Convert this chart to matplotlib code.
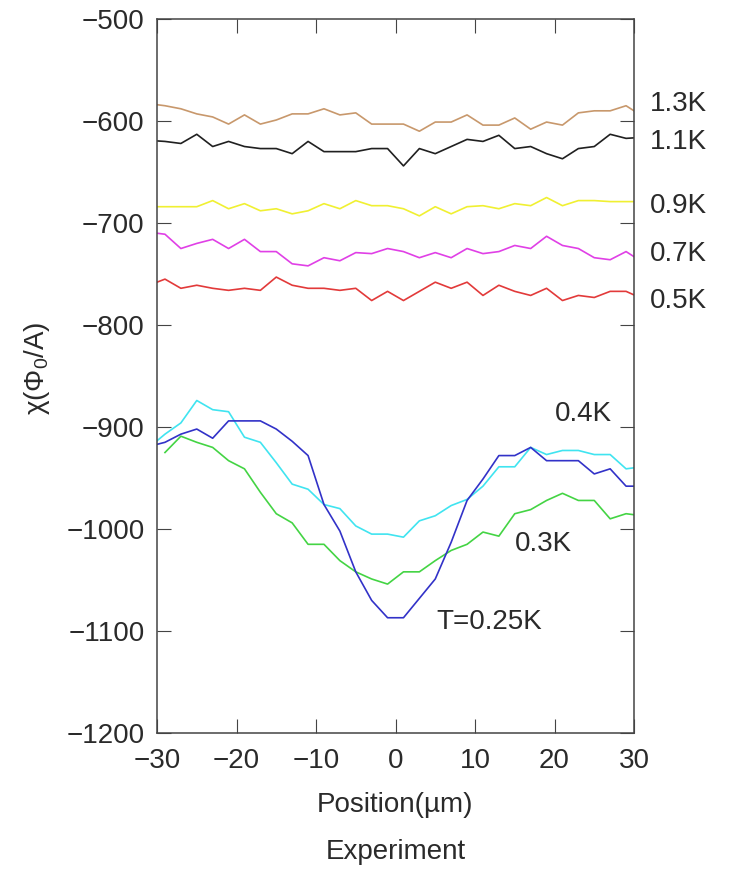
import matplotlib
matplotlib.use("Agg")
import matplotlib.pyplot as plt
import numpy as np

plt.rcParams['font.family'] = ['Liberation Sans', 'DejaVu Sans']
plt.rcParams['mathtext.fontset'] = 'custom'
plt.rcParams['mathtext.rm'] = 'Liberation Sans'
plt.rcParams['mathtext.default'] = 'regular'

# scan positions (um), odd steps; lines are clipped at the frame
pos = list(range(-31, 32, 2))
pos_03 = list(range(-29, 32, 2))

chi_13 = [-583, -585, -588, -593, -596, -603, -594, -603, -599, -593, -593, -588, -594, -592, -603, -603,
          -603, -610, -601, -601, -594, -604, -604, -597, -608, -601, -604, -592, -590, -590, -585, -595]
chi_11 = [-619, -620, -622, -613, -625, -620, -625, -627, -627, -632, -620, -630, -630, -630, -627, -627,
          -644, -627, -632, -625, -618, -620, -614, -627, -625, -632, -637, -627, -625, -613, -617, -616]
chi_09 = [-684, -684, -684, -684, -678, -686, -681, -688, -686, -691, -688, -681, -686, -678, -683, -683,
          -686, -693, -684, -691, -684, -683, -686, -681, -683, -675, -683, -678, -678, -679, -679, -679]
chi_07 = [-709, -711, -725, -720, -716, -725, -716, -728, -728, -740, -742, -734, -737, -729, -730, -725,
          -728, -734, -729, -734, -725, -730, -728, -722, -725, -713, -722, -725, -734, -736, -728, -738]
chi_05 = [-761, -755, -764, -761, -764, -766, -764, -766, -753, -761, -764, -764, -766, -764, -776, -767,
          -776, -767, -758, -764, -758, -771, -761, -767, -771, -764, -776, -771, -773, -767, -767, -774]
chi_04 = [-920, -907, -896, -874, -883, -885, -910, -915, -935, -956, -961, -976, -980, -997, -1005, -1005,
          -1008, -992, -987, -977, -971, -958, -939, -939, -920, -927, -923, -923, -927, -927, -941, -939]
chi_03 = [-925, -909, -915, -920, -933, -941, -964, -985, -994, -1015, -1015, -1031, -1042, -1049, -1054,
          -1042, -1042, -1031, -1021, -1015, -1003, -1007, -985, -981, -972, -965, -972, -972, -990, -985, -987]
chi_025 = [-919, -915, -907, -902, -911, -894, -894, -894, -902, -914, -928, -976, -1002, -1042, -1070, -1087,
           -1087, -1068, -1049, -1013, -972, -951, -928, -928, -920, -933, -933, -933, -946, -941, -958, -958]

labels = ["1.3K", "1.1K", "0.9K", "0.7K", "0.5K", "0.4K", "0.3K", "T=0.25K"]
label_x = [32.0, 32.0, 32.0, 32.0, 32.0, 20.0, 15.0, 5.1]
label_y = [-583, -621, -683, -730, -776, -887, -1015, -1091]

fig = plt.figure(figsize=(7.29, 8.69), dpi=100)
ax = fig.add_axes([0.2154, 0.1565, 0.6543, 0.8216])

series = [
    (pos, chi_13, "#c8986c"),
    (pos, chi_11, "#202020"),
    (pos, chi_09, "#f0f032"),
    (pos, chi_07, "#e040e6"),
    (pos, chi_05, "#e23a3a"),
    (pos, chi_04, "#40e4f0"),
    (pos_03, chi_03, "#44d444"),
    (pos, chi_025, "#3232c8"),
]
for xs, ys, c in series:
    ax.plot(xs, ys, color=c, lw=1.2)

fs = 20
txt = '#2a2a2a'
for t, lx, ly in zip(labels, label_x, label_y):
    ax.text(lx, ly, t, fontsize=fs, ha='left', va='center', color=txt)

ax.set_xlim(-30, 30)
ax.set_ylim(-1200, -500)
ax.set_xticks(np.arange(-30, 31, 10))
ax.set_yticks(np.arange(-1200, -499, 100))
ax.tick_params(direction='in', top=True, right=True, length=10, width=0.8,
               color='#444444', labelsize=fs, labelcolor=txt)
ax.tick_params(axis='x', pad=11)
ax.tick_params(axis='y', pad=9)
for s in ax.spines.values():
    s.set_color('#444444')
    s.set_linewidth(1.1)

fig.text(0.051, 0.5765, "χ(Φ$_0$/A)", rotation=90, fontsize=fs, ha='center', va='center', color=txt)
fig.text(0.5425, 0.0737, "Position(µm)", fontsize=fs, ha='center', va='center', color=txt)
fig.text(0.5425, 0.0196, "Experiment", fontsize=fs, ha='center', va='center', color=txt)

fig.savefig("out.png", dpi=100)
